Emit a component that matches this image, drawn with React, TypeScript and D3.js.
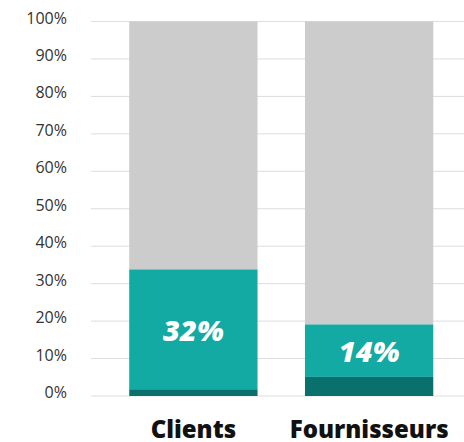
import React from "react";
import * as d3 from "d3";

const categories = ["Clients", "Fournisseurs"];
const darkValues = [1.8, 5.1];
const tealValues = [32, 14];
const tealLabels = ["32%", "14%"];
const tickValues = [0, 10, 20, 30, 40, 50, 60, 70, 80, 90, 100];

const W = 464;
const H = 442;

export default function App() {
  const y = d3.scaleLinear().domain([0, 100]).range([396, 21.5]);
  const x = d3
    .scaleBand<string>()
    .domain(categories)
    .range([105.5, 457])
    .paddingInner(0.27)
    .paddingOuter(0.135);
  const bw = x.bandwidth();
  const font = "'Open Sans', 'Noto Sans', sans-serif";
  return (
    <svg
      width={W}
      height={H}
      style={{ position: "absolute", left: 0, top: 0, display: "block" }}
    >
      {tickValues.map((t) => (
        <g key={t}>
          <line
            x1={91}
            x2={W}
            y1={y(t)}
            y2={y(t)}
            stroke="#dddddd"
            strokeWidth={1}
          />
          <text
            x={67}
            y={y(t) - 4}
            textAnchor="end"
            fontFamily={font}
            fontSize={16}
            fill="#333"
            dominantBaseline="central"
          >
            {t}%
          </text>
        </g>
      ))}
      {categories.map((c, i) => {
        const x0 = x(c)!;
        const d = darkValues[i];
        const t = tealValues[i];
        return (
          <g key={c}>
            <rect x={x0} width={bw} y={y(100)} height={y(d + t) - y(100)} fill="#cccccc" />
            <rect x={x0} width={bw} y={y(d + t)} height={y(d) - y(d + t)} fill="#13aaa4" />
            <rect x={x0} width={bw} y={y(d)} height={y(0) - y(d)} fill="#0a706c" />
            <text
              x={x0 + bw / 2}
              y={(y(d + t) + y(d)) / 2}
              textAnchor="middle"
              dominantBaseline="central"
              fontFamily={font}
              fontStyle="italic"
              fontWeight={800}
              fontSize={29}
              fill="#ffffff"
            >
              {tealLabels[i]}
            </text>
            <text
              x={x0 + bw / 2}
              y={438}
              textAnchor="middle"
              fontFamily={font}
              fontWeight={800}
              fontSize={24}
              fill="#111"
            >
              {c}
            </text>
          </g>
        );
      })}
    </svg>
  );
}
